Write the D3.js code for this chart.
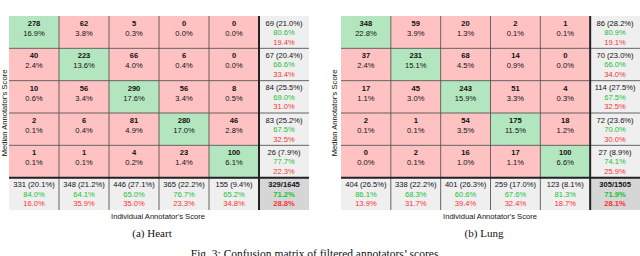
<!DOCTYPE html>
<html>
<head>
<meta charset="utf-8">
<script src="https://cdn.jsdelivr.net/npm/d3@7"></script>
<style>
  body { margin: 0; background: #fff; }
  svg { display: block; }
</style>
</head>
<body>
<svg id="chart" width="640" height="256"></svg>
<script>
// score classes (1..5) plus the summary slot
const classes = [0, 1, 2, 3, 4];

// heart: rows = median score, cols = individual score
const heartCounts = [
  [278, 62, 5, 0, 0],
  [40, 223, 66, 6, 0],
  [10, 56, 290, 56, 8],
  [2, 6, 81, 280, 46],
  [1, 1, 4, 23, 100]
];
const heartPcts = [
  ["16.9%", "3.8%", "0.3%", "0.0%", "0.0%"],
  ["2.4%", "13.6%", "4.0%", "0.4%", "0.0%"],
  ["0.6%", "3.4%", "17.6%", "3.4%", "0.5%"],
  ["0.1%", "0.4%", "4.9%", "17.0%", "2.8%"],
  ["0.1%", "0.1%", "0.2%", "1.4%", "6.1%"]
];
const heartRowTotals = ["69 (21.0%)", "67 (20.4%)", "84 (25.5%)", "83 (25.2%)", "26 (7.9%)"];
const heartRowGood = ["80.6%", "66.6%", "69.0%", "67.5%", "77.7%"];
const heartRowBad = ["19.4%", "33.4%", "31.0%", "32.5%", "22.3%"];
const heartColTotals = ["331 (20.1%)", "348 (21.2%)", "446 (27.1%)", "365 (22.2%)", "155 (9.4%)"];
const heartColGood = ["84.0%", "64.1%", "65.0%", "76.7%", "65.2%"];
const heartColBad = ["16.0%", "35.9%", "35.0%", "23.3%", "34.8%"];
const heartCorner = ["329/1645", "71.2%", "28.8%"];

// lung
const lungCounts = [
  [348, 59, 20, 2, 1],
  [37, 231, 68, 14, 0],
  [17, 45, 243, 51, 4],
  [2, 1, 54, 175, 18],
  [0, 2, 16, 17, 100]
];
const lungPcts = [
  ["22.8%", "3.9%", "1.3%", "0.1%", "0.1%"],
  ["2.4%", "15.1%", "4.5%", "0.9%", "0.0%"],
  ["1.1%", "3.0%", "15.9%", "3.3%", "0.3%"],
  ["0.1%", "0.1%", "3.5%", "11.5%", "1.2%"],
  ["0.0%", "0.1%", "1.0%", "1.1%", "6.6%"]
];
const lungRowTotals = ["86 (28.2%)", "70 (23.0%)", "114 (27.5%)", "72 (23.6%)", "27 (8.9%)"];
const lungRowGood = ["80.9%", "66.0%", "67.5%", "70.0%", "74.1%"];
const lungRowBad = ["19.1%", "34.0%", "32.5%", "30.0%", "25.9%"];
const lungColTotals = ["404 (26.5%)", "338 (22.2%)", "401 (26.3%)", "259 (17.0%)", "123 (8.1%)"];
const lungColGood = ["86.1%", "68.3%", "60.6%", "67.6%", "81.3%"];
const lungColBad = ["13.9%", "31.7%", "39.4%", "32.4%", "18.7%"];
const lungCorner = ["305/1505", "71.9%", "28.1%"];

const GREEN_FILL = "#b3e6bf", RED_FILL = "#ffc2c2", SUM_FILL = "#efefef", CORNER_FILL = "#d6d6d6";
const GREEN_TXT = "#14c234", RED_TXT = "#ff3030";
const cellFont = "Liberation Sans, Arial, sans-serif";

const svg = d3.select("#chart");

function drawMatrix(m) {
  const g = svg.append("g");
  const slots = [...classes, 5];
  const x = d3.scaleBand().domain(slots).range(m.xr);
  const y = d3.scaleBand().domain(slots).range(m.yr);
  const bw = x.bandwidth(), bh = y.bandwidth();

  // build cells
  const cells = [];
  classes.forEach(r => classes.forEach(c => {
    cells.push({ r, c, fill: r === c ? GREEN_FILL : RED_FILL,
      lines: [[String(m.counts[r][c]), "#111", "bold"], [m.pcts[r][c], "#111", "normal"]] });
  }));
  classes.forEach(r => cells.push({ r, c: 5, fill: SUM_FILL,
    lines: [[m.rowTotals[r], "#111", "normal"], [m.rowGood[r], GREEN_TXT, "normal"], [m.rowBad[r], RED_TXT, "normal"]] }));
  classes.forEach(c => cells.push({ r: 5, c, fill: SUM_FILL,
    lines: [[m.colTotals[c], "#111", "normal"], [m.colGood[c], GREEN_TXT, "normal"], [m.colBad[c], RED_TXT, "normal"]] }));
  cells.push({ r: 5, c: 5, fill: CORNER_FILL,
    lines: [[m.corner[0], "#111", "bold"], [m.corner[1], GREEN_TXT, "bold"], [m.corner[2], RED_TXT, "bold"]] });

  const cg = g.selectAll("g.cell").data(cells).join("g").attr("class", "cell")
    .attr("transform", d => `translate(${x(d.c)},${y(d.r)})`);
  cg.append("rect").attr("width", bw).attr("height", bh).attr("fill", d => d.fill);
  cg.each(function(d) {
    const sel = d3.select(this);
    const offs = d.lines.length === 2 ? [10, 20] : [9.5, 19, 28.5];
    d.lines.forEach((ln, i) => {
      sel.append("text")
        .attr("x", bw / 2).attr("y", offs[i])
        .attr("text-anchor", "middle")
        .attr("font-family", cellFont).attr("font-size", 7.6)
        .attr("font-weight", ln[2]).attr("fill", ln[1])
        .text(ln[0]);
    });
  });

  // thin grid lines
  const x0 = m.xr[0], x1 = m.xr[1], y0 = m.yr[0], y1 = m.yr[1];
  for (let i = 1; i < 5; i++) {
    g.append("line").attr("x1", x(i)).attr("x2", x(i)).attr("y1", y0).attr("y2", y1)
      .attr("stroke", "#555").attr("stroke-width", 0.9);
    g.append("line").attr("x1", x0).attr("x2", x1).attr("y1", y(i)).attr("y2", y(i))
      .attr("stroke", "#555").attr("stroke-width", 0.9);
  }
  // thick separators
  g.append("line").attr("x1", x(5)).attr("x2", x(5)).attr("y1", y0).attr("y2", y1)
    .attr("stroke", "#222").attr("stroke-width", 2);
  g.append("line").attr("x1", x0).attr("x2", x1).attr("y1", y(5)).attr("y2", y(5))
    .attr("stroke", "#222").attr("stroke-width", 2);

  // axis titles
  g.append("text")
    .attr("transform", `translate(${m.ylabX},${(y0 + y1) / 2}) rotate(-90)`)
    .attr("text-anchor", "middle").attr("font-family", "Liberation Sans, Arial, sans-serif")
    .attr("font-size", 7.6).attr("fill", "#111")
    .text("Median Annotator's Score");
  g.append("text")
    .attr("x", m.xlabX).attr("y", 219)
    .attr("text-anchor", "middle").attr("font-family", "Liberation Sans, Arial, sans-serif")
    .attr("font-size", 7.6).attr("fill", "#111")
    .text("Individual Annotator's Score");
  // sub caption
  g.append("text")
    .attr("x", m.capX).attr("y", 237)
    .attr("text-anchor", "middle").attr("font-family", "Liberation Serif, Times New Roman, serif")
    .attr("font-size", 11).attr("fill", "#111")
    .text(m.caption);
}

drawMatrix({ xr: [9, 309], yr: [16, 210], ylabX: 6.5, xlabX: 158, capX: 152, caption: "(a) Heart",
  counts: heartCounts, pcts: heartPcts, rowTotals: heartRowTotals, rowGood: heartRowGood, rowBad: heartRowBad,
  colTotals: heartColTotals, colGood: heartColGood, colBad: heartColBad, corner: heartCorner });

drawMatrix({ xr: [341, 640], yr: [16, 210], ylabX: 337, xlabX: 490, capX: 484, caption: "(b) Lung",
  counts: lungCounts, pcts: lungPcts, rowTotals: lungRowTotals, rowGood: lungRowGood, rowBad: lungRowBad,
  colTotals: lungColTotals, colGood: lungColGood, colBad: lungColBad, corner: lungCorner });

// figure caption, sits at the bottom edge as in the source page
svg.append("text")
  .attr("x", 316).attr("y", 258)
  .attr("text-anchor", "middle").attr("font-family", "Liberation Serif, Times New Roman, serif")
  .attr("font-size", 11.5).attr("fill", "#111")
  .text("Fig. 3: Confusion matrix of filtered annotators’ scores.");
</script>
</body>
</html>
